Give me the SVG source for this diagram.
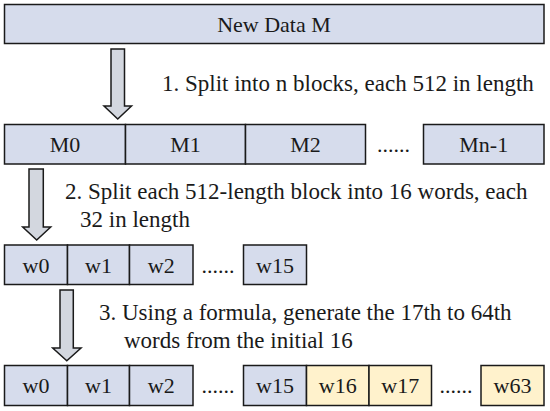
<svg xmlns="http://www.w3.org/2000/svg" width="550" height="411" viewBox="0 0 550 411">
<style>
  .b { fill: #d6dcec; stroke: #1a1a1a; stroke-width: 1.5; }
  .y { fill: #fff2cc; stroke: #1a1a1a; stroke-width: 1.5; }
  .t { font-family: 'Liberation Serif', 'Times New Roman', Times, 'DejaVu Serif', serif; font-size: 22px; fill: #1a1a1a; text-anchor: middle; }
  .s { font-family: 'Liberation Serif', 'Times New Roman', Times, 'DejaVu Serif', serif; font-size: 23px; fill: #1a1a1a; }
  .a { fill: #d3d7df; stroke: #1a1a1a; stroke-width: 1.5; stroke-linejoin: miter; }
</style>
<rect width="550" height="411" fill="#ffffff"/>

<g id="new-data-m">
  <rect class="b" x="4.5" y="4.5" width="539.5" height="39"/>
  <text class="t" x="274" y="32">New Data M</text>
</g>

<g id="row-m">
  <g id="M0"><rect class="b" x="4.5" y="124.5" width="121" height="39.5"/><text class="t" x="65" y="152">M0</text></g>
  <g id="M1"><rect class="b" x="125.5" y="124.5" width="120" height="39.5"/><text class="t" x="185.5" y="152">M1</text></g>
  <g id="M2"><rect class="b" x="245.5" y="124.5" width="120" height="39.5"/><text class="t" x="305.5" y="152">M2</text></g>
  <text class="t" x="393.5" y="152">......</text>
  <g id="Mn-1"><rect class="b" x="423.5" y="124.5" width="120.5" height="39.5"/><text class="t" x="483.75" y="152">Mn-1</text></g>
</g>

<g id="row-w16">
  <g id="w0-a"><rect class="b" x="4.5" y="245" width="63" height="39.5"/><text class="t" x="36" y="272.5">w0</text></g>
  <g id="w1-a"><rect class="b" x="67.5" y="245" width="62" height="39.5"/><text class="t" x="98.5" y="272.5">w1</text></g>
  <g id="w2-a"><rect class="b" x="129.5" y="245" width="63.5" height="39.5"/><text class="t" x="161.25" y="272.5">w2</text></g>
  <text class="t" x="218" y="272.5">......</text>
  <g id="w15-a"><rect class="b" x="243.5" y="245" width="63" height="39.5"/><text class="t" x="275" y="272.5">w15</text></g>
</g>

<g id="row-w64">
  <g id="w0-b"><rect class="b" x="4.5" y="365.5" width="63" height="40"/><text class="t" x="36" y="393">w0</text></g>
  <g id="w1-b"><rect class="b" x="67.5" y="365.5" width="62" height="40"/><text class="t" x="98.5" y="393">w1</text></g>
  <g id="w2-b"><rect class="b" x="129.5" y="365.5" width="63.5" height="40"/><text class="t" x="161.25" y="393">w2</text></g>
  <text class="t" x="218" y="393">......</text>
  <g id="w15-b"><rect class="b" x="243.5" y="365.5" width="63" height="40"/><text class="t" x="275" y="393">w15</text></g>
  <g id="w16"><rect class="y" x="306.5" y="365.5" width="62.5" height="40"/><text class="t" x="337.75" y="393">w16</text></g>
  <g id="w17"><rect class="y" x="369" y="365.5" width="62.5" height="40"/><text class="t" x="400.25" y="393">w17</text></g>
  <text class="t" x="456" y="393">......</text>
  <g id="w63"><rect class="y" x="481" y="365.5" width="63" height="40"/><text class="t" x="512.5" y="393">w63</text></g>
</g>

<g id="connectors">
  <polygon class="a" points="111,49 124.5,49 124.5,106 131.5,106 117.75,119 104,106 111,106"/>
  <polygon class="a" points="29,169 43.3,169 43.3,227 50.7,227 36.7,240 22.7,227 29,227"/>
  <polygon class="a" points="60,290 73.3,290 73.3,348 81,348 66.8,360.7 52.7,348 60,348"/>
</g>

<g id="step-labels">
  <text class="s" x="162" y="90.5">1. Split into n blocks, each 512 in length</text>
  <text class="s" x="65" y="199">2. Split each 512-length block into 16 words, each</text>
  <text class="s" x="80" y="227">32 in length</text>
  <text class="s" x="99" y="320">3. Using a formula, generate the 17th to 64th</text>
  <text class="s" x="124" y="347.5">words from the initial 16</text>
</g>
</svg>
